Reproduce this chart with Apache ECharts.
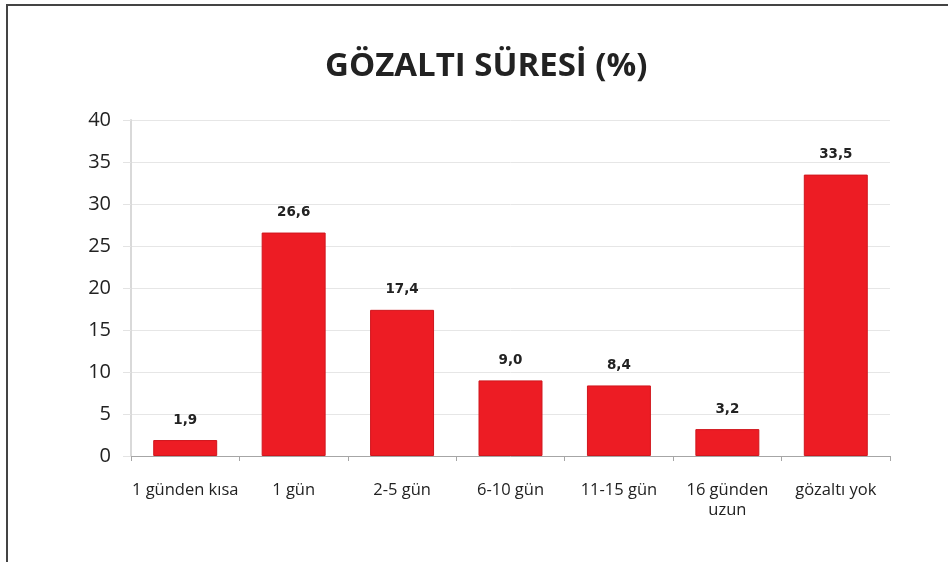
<!DOCTYPE html>
<html>
<head>
<meta charset="utf-8">
<script src="https://cdn.jsdelivr.net/npm/echarts@6/dist/echarts.min.js"></script>
<style>
  html, body { margin: 0; padding: 0; background: #fff; }
  #wrap { position: relative; width: 948px; height: 562px; }
  #frame { position: absolute; left: 6px; top: 4px; right: 0; bottom: 0;
           border-top: 2px solid #444; border-left: 2px solid #444; }
  #chart { position: absolute; left: 0; top: 0; width: 948px; height: 562px; }
</style>
</head>
<body>
<div id="wrap">
  <div id="frame"></div>
  <div id="chart"></div>
</div>
<script>
  // kategoriler ve yüzdeler
  var categories = ['1 günden kısa', '1 gün', '2-5 gün', '6-10 gün', '11-15 gün', '16 günden\nuzun', 'gözaltı yok'];
  var values = [1.9, 26.6, 17.4, 9.0, 8.4, 3.2, 33.5];

  var chart = echarts.init(document.getElementById('chart'));
  var option = {
    backgroundColor: 'transparent',
    animation: false,
    title: {
      text: 'GÖZALTI SÜRESİ (%)',
      left: 320,
      top: 45,
      textStyle: {
        fontFamily: 'Open Sans',
        fontWeight: 'bold',
        fontSize: 33,
        color: '#222'
      }
    },
    grid: {
      left: 131,
      right: 58,
      top: 120,
      bottom: 106
    },
    xAxis: {
      type: 'category',
      data: categories,
      axisLine: { lineStyle: { color: '#a6a6a6', width: 1 } },
      axisTick: { show: true, interval: 0, length: 5, lineStyle: { color: '#a6a6a6' } },
      axisLabel: {
        interval: 0,
        margin: 24,
        fontFamily: 'Open Sans',
        fontSize: 16.5,
        lineHeight: 20,
        color: '#222'
      }
    },
    yAxis: {
      type: 'value',
      min: 0,
      max: 40,
      interval: 5,
      axisLine: { show: true, lineStyle: { color: '#d9d9d9', width: 2 } },
      axisTick: { show: true, length: 8, lineStyle: { color: '#e3e3e3' } },
      splitLine: { lineStyle: { color: '#e6e6e6', width: 1 } },
      axisLabel: {
        margin: 20,
        fontFamily: 'Open Sans',
        fontSize: 20,
        color: '#222'
      }
    },
    series: [{
      type: 'bar',
      data: values,
      barWidth: '59%',
      itemStyle: {
        color: '#ED1C24',
        borderColor: '#d0161d',
        borderWidth: 1
      },
      label: {
        show: true,
        position: 'top',
        distance: 13,
        fontFamily: 'DejaVu Sans',
        fontWeight: 'bold',
        fontSize: 13.5,
        color: '#222',
        formatter: function (p) {
          return p.value.toFixed(1).replace('.', ',');
        }
      }
    }]
  };
  chart.setOption(option);
</script>
</body>
</html>
